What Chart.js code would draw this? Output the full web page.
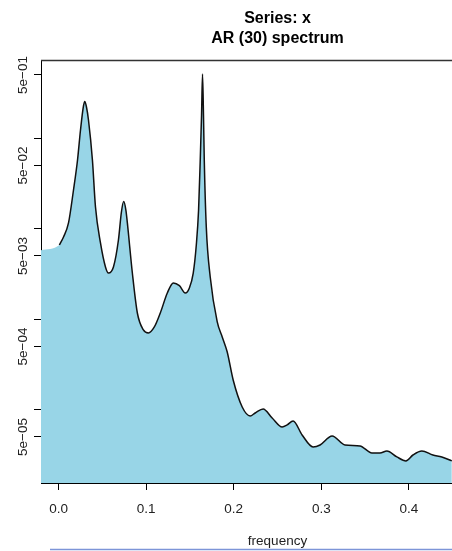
<!DOCTYPE html>
<html>
<head>
<meta charset="utf-8">
<script src="https://cdn.jsdelivr.net/npm/chart.js@4/dist/chart.umd.min.js"></script>
<style>
  html, body { margin: 0; padding: 0; background: #fff; overflow: hidden; }
  #frame { width: 452px; height: 551px; overflow: hidden; position: relative; }
  canvas { display: block; }
</style>
</head>
<body>
<div id="frame"><canvas id="spec" width="540" height="551"></canvas></div>
<script>
// Titles and axis text
const titleLines = ['Series: x', 'AR (30) spectrum'];
const xAxisTitle = 'frequency';

// AR(30) spectral density estimate (frequency, spectrum)
const freq = [
  0.001, 0.0057, 0.0114, 0.0171, 0.0217, 0.0251, 0.0285, 0.0300, 0.0319, 0.0342,
  0.0387, 0.0422, 0.0479, 0.0536, 0.0570, 0.0627, 0.0684, 0.0718, 0.0744, 0.0769,
  0.0786, 0.0843, 0.0900, 0.0969, 0.1026, 0.1094, 0.1162, 0.1242, 0.1311, 0.1380,
  0.1447, 0.1493, 0.1538, 0.1573, 0.1599, 0.1618, 0.1633, 0.1644, 0.1655, 0.1664,
  0.1687, 0.1732, 0.1812, 0.1869, 0.1926, 0.1994, 0.2097, 0.2188, 0.2245, 0.2336,
  0.2439, 0.2553, 0.2610, 0.2678, 0.2781, 0.2906, 0.2986, 0.3123, 0.3271, 0.3442,
  0.3578, 0.3670, 0.3749, 0.3863, 0.3966, 0.4046, 0.4148, 0.4274, 0.4376, 0.4490
];
const spec = [
  6.61e-3, 8.11e-3, 1.159e-2, 2.68e-2, 5.75e-2, 0.1233, 0.2272, 0.2548, 0.2215, 0.159,
  5.75e-2, 1.74e-2, 6.96e-3, 3.78e-3, 3.24e-3, 3.78e-3, 7.51e-3, 1.53e-2, 2.00e-2, 1.61e-2,
  1.159e-2, 3.24e-3, 1.172e-3, 7.61e-4, 7.05e-4, 8.21e-4, 1.172e-3, 1.95e-3, 2.52e-3, 2.35e-3,
  1.95e-3, 2.20e-3, 3.24e-3, 6.61e-3, 1.61e-2, 5.75e-2, 0.1807, 0.513, 0.1807, 5.75e-2,
  1.046e-2, 2.93e-3, 9.33e-4, 6.37e-4, 4.35e-4, 2.13e-4, 1.073e-4, 8.53e-5, 9.20e-5, 1.019e-4,
  8.11e-5, 6.45e-5, 6.79e-5, 7.51e-5, 5.26e-5, 3.88e-5, 4.08e-5, 5.13e-5, 4.08e-5, 3.98e-5,
  3.33e-5, 3.33e-5, 3.50e-5, 3.01e-5, 2.72e-5, 3.16e-5, 3.50e-5, 3.16e-5, 3.01e-5, 2.72e-5
];

// Shaded area reaches the left edge of the plot region
const edgeFreq = [-0.02];
const edgeSpec = [5.8e-3];

// Axis ticks
const xTickValues = [0, 0.1, 0.2, 0.3, 0.4, 0.5];
const xTickLabels = ['0.0', '0.1', '0.2', '0.3', '0.4', '0.5'];
const yTickValues = [5e-5, 1e-4, 5e-4, 1e-3, 5e-3, 1e-2, 5e-2, 1e-1, 5e-1];
const yTickLabels = ['5e\u221205', '', '5e\u221204', '', '5e\u221203', '', '5e\u221202', '', '5e\u221201'];

const FONT = '"Liberation Sans", Arial, sans-serif';

const linePoints = freq.map((f, i) => ({ x: f, y: spec[i] }));
const areaPoints = edgeFreq.map((f, i) => ({ x: f, y: edgeSpec[i] })).concat(linePoints);

const decorations = {
  id: 'decorations',
  afterDraw(chart) {
    const ctx = chart.ctx;
    const a = chart.chartArea;
    const xs = chart.scales.x;
    const ys = chart.scales.y;
    ctx.save();

    // plot box (top and right edges)
    ctx.strokeStyle = '#333';
    ctx.lineWidth = 1.5;
    ctx.beginPath();
    ctx.moveTo(a.left, a.top + 0.5);
    ctx.lineTo(a.right, a.top + 0.5);
    ctx.lineTo(a.right, a.bottom);
    ctx.stroke();

    // main title
    const cx = (a.left + a.right) / 2;
    ctx.fillStyle = '#000';
    ctx.textAlign = 'center';
    ctx.textBaseline = 'alphabetic';
    ctx.font = 'bold 16px ' + FONT;
    ctx.fillText(titleLines[0], cx, 23);
    ctx.fillText(titleLines[1], cx, 43);

    // x tick labels
    ctx.font = '13.5px ' + FONT;
    ctx.fillStyle = '#222';
    xTickValues.forEach((v, i) => {
      ctx.fillText(xTickLabels[i], xs.getPixelForValue(v), 513);
    });

    // x axis title
    ctx.fillText(xAxisTitle, cx, 545);

    // y tick labels, rotated
    yTickValues.forEach((v, i) => {
      if (!yTickLabels[i]) return;
      const py = ys.getPixelForValue(v);
      ctx.save();
      ctx.translate(27, py);
      ctx.rotate(-Math.PI / 2);
      ctx.textAlign = 'center';
      ctx.textBaseline = 'alphabetic';
      ctx.fillText(yTickLabels[i], 0, 0);
      ctx.restore();
    });

    // thin rule along the bottom edge
    ctx.strokeStyle = '#7d95d8';
    ctx.lineWidth = 1.5;
    ctx.beginPath();
    ctx.moveTo(50, 549.5);
    ctx.lineTo(chart.width, 549.5);
    ctx.stroke();

    ctx.restore();
  }
};

new Chart(document.getElementById('spec'), {
  type: 'line',
  data: {
    datasets: [
      {
        data: areaPoints,
        fill: 'start',
        backgroundColor: '#98d5e7',
        borderWidth: 0,
        borderColor: 'rgba(0,0,0,0)',
        pointRadius: 0,
        cubicInterpolationMode: 'monotone',
        order: 2
      },
      {
        data: linePoints,
        fill: false,
        borderColor: '#111',
        borderWidth: 1.5,
        pointRadius: 0,
        cubicInterpolationMode: 'monotone',
        order: 1
      }
    ]
  },
  options: {
    responsive: false,
    animation: false,
    devicePixelRatio: 1,
    layout: { padding: { left: 0, right: 26, top: 60, bottom: 0 } },
    plugins: {
      legend: { display: false },
      title: { display: false },
      tooltip: { enabled: false }
    },
    scales: {
      x: {
        type: 'linear',
        min: -0.02,
        max: 0.52,
        afterBuildTicks: s => { s.ticks = xTickValues.map(v => ({ value: v })); },
        afterFit: s => { s.height = 68; },
        ticks: { display: false },
        grid: { drawOnChartArea: false, drawTicks: true, tickLength: 7, color: '#000', lineWidth: 1 },
        border: { display: true, color: '#000', width: 1 }
      },
      y: {
        type: 'logarithmic',
        min: 1.55e-5,
        max: 0.732,
        afterBuildTicks: s => { s.ticks = yTickValues.map(v => ({ value: v })); },
        afterFit: s => { s.width = 41; },
        ticks: { display: false },
        grid: { drawOnChartArea: false, drawTicks: true, tickLength: 7, color: '#000', lineWidth: 1 },
        border: { display: true, color: '#000', width: 1 }
      }
    }
  },
  plugins: [decorations]
});
</script>
</body>
</html>
